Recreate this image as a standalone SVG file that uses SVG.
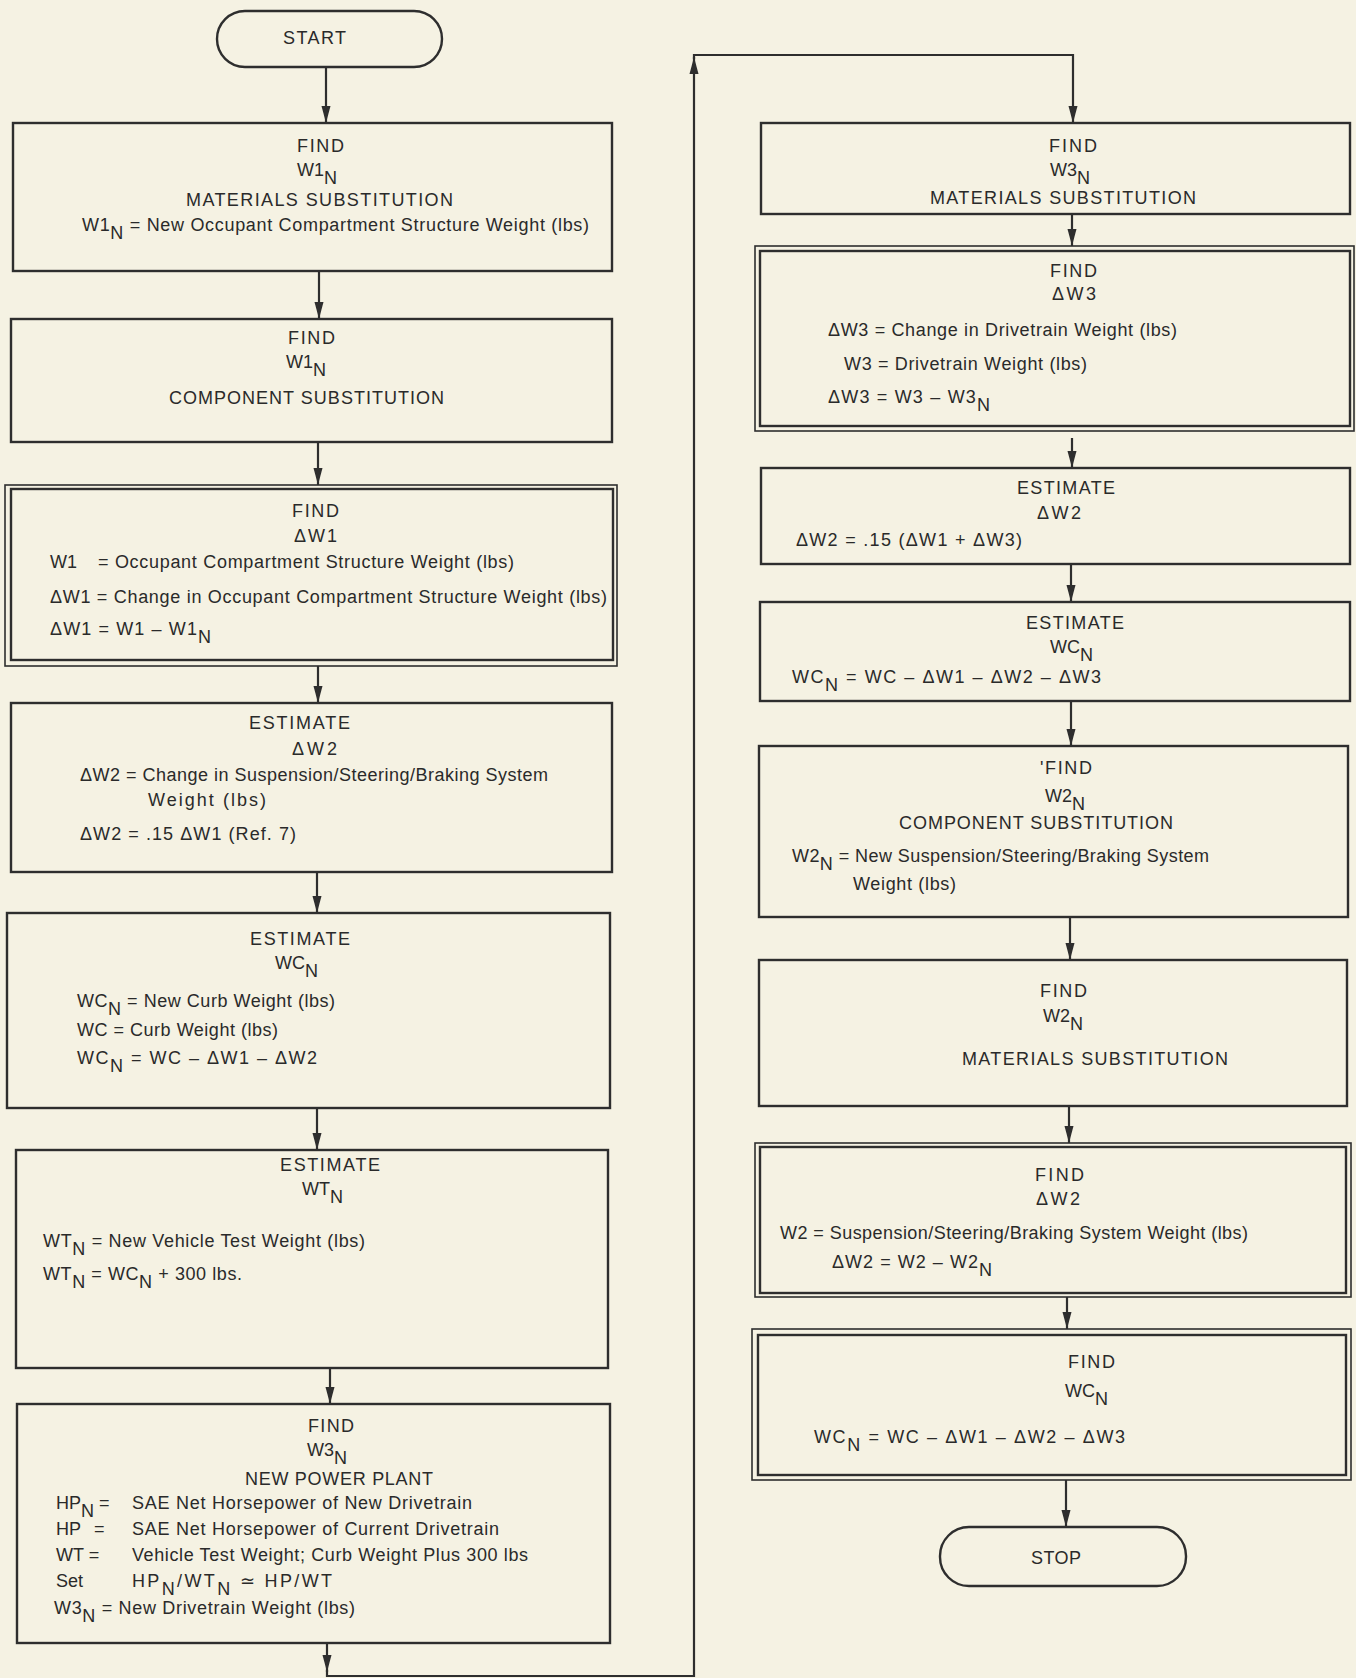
<svg xmlns="http://www.w3.org/2000/svg" width="1356" height="1678" viewBox="0 0 1356 1678">
<style>
.bg{fill:#f5f2e3}
.box{fill:none;stroke:#2e2e2e;stroke-width:2.4}
.thin{fill:none;stroke:#2e2e2e;stroke-width:1.6}
.ln{fill:none;stroke:#2e2e2e;stroke-width:2.2}
text{font-family:"Liberation Sans",Arial,sans-serif;font-size:18px;fill:#2a2a2a}
</style>
<defs>
<marker id="ah" markerUnits="userSpaceOnUse" markerWidth="18" markerHeight="10" refX="17" refY="5" orient="auto">
<path d="M0,0.5 L17,5 L0,9.5 z" fill="#2e2e2e"/>
</marker>
</defs>
<rect class="bg" x="0" y="0" width="1356" height="1678"/>

<g id="connectors">
<path class="ln" d="M326,67 V123" marker-end="url(#ah)"/>
<path class="ln" d="M319,271 V319" marker-end="url(#ah)"/>
<path class="ln" d="M318,442 V485" marker-end="url(#ah)"/>
<path class="ln" d="M318,666 V703" marker-end="url(#ah)"/>
<path class="ln" d="M317,872 V913" marker-end="url(#ah)"/>
<path class="ln" d="M317,1108 V1150" marker-end="url(#ah)"/>
<path class="ln" d="M330,1368 V1404" marker-end="url(#ah)"/>
<path class="ln" d="M327,1643 V1672" marker-end="url(#ah)"/>
<path class="ln" d="M327,1670 V1676 H694 V57" marker-end="url(#ah)"/>
<path class="ln" d="M694,59 V55 H1073 V123" marker-end="url(#ah)"/>
<path class="ln" d="M1072,214 V246" marker-end="url(#ah)"/>
<path class="ln" d="M1072,438 V468" marker-end="url(#ah)"/>
<path class="ln" d="M1071,564 V602" marker-end="url(#ah)"/>
<path class="ln" d="M1071,701 V746" marker-end="url(#ah)"/>
<path class="ln" d="M1070,917 V960" marker-end="url(#ah)"/>
<path class="ln" d="M1069,1106 V1143" marker-end="url(#ah)"/>
<path class="ln" d="M1067,1297 V1329" marker-end="url(#ah)"/>
<path class="ln" d="M1066,1480 V1527" marker-end="url(#ah)"/>
</g>

<g id="start">
<rect class="box" x="217" y="11" width="225" height="56" rx="28"/>
<text x="283" y="44" textLength="63">START</text>
</g>

<g id="b1">
<rect class="box" x="13" y="123" width="599" height="148"/>
<text x="297" y="152" textLength="47">FIND</text>
<text x="297" y="176">W1<tspan dy="8">N</tspan></text>
<text x="186" y="206" textLength="267">MATERIALS SUBSTITUTION</text>
<text x="82" y="231" textLength="507">W1<tspan dy="8">N</tspan><tspan dy="-8"> = New Occupant Compartment Structure Weight (lbs)</tspan></text>
</g>

<g id="b2">
<rect class="box" x="11" y="319" width="601" height="123"/>
<text x="288" y="344" textLength="47">FIND</text>
<text x="286" y="368">W1<tspan dy="8">N</tspan></text>
<text x="169" y="404" textLength="275">COMPONENT SUBSTITUTION</text>
</g>

<g id="b3">
<rect class="thin" x="5" y="485" width="612" height="181"/>
<rect class="box" x="11" y="489" width="602" height="171"/>
<text x="292" y="517" textLength="47">FIND</text>
<text x="294" y="542" textLength="43">ΔW1</text>
<text x="50" y="568">W1</text>
<text x="98" y="568" textLength="416">= Occupant Compartment Structure Weight (lbs)</text>
<text x="50" y="603" textLength="557">ΔW1 = Change in Occupant Compartment Structure Weight (lbs)</text>
<text x="50" y="635" textLength="161">ΔW1 = W1 – W1<tspan dy="8">N</tspan></text>
</g>

<g id="b4">
<rect class="box" x="11" y="703" width="601" height="169"/>
<text x="249" y="729" textLength="101">ESTIMATE</text>
<text x="292" y="755" textLength="45">ΔW2</text>
<text x="80" y="781" textLength="468">ΔW2 = Change in Suspension/Steering/Braking System</text>
<text x="148" y="806" textLength="118">Weight (lbs)</text>
<text x="80" y="840" textLength="216">ΔW2 = .15 ΔW1 (Ref. 7)</text>
</g>

<g id="b5">
<rect class="box" x="7" y="913" width="603" height="195"/>
<text x="250" y="945" textLength="100">ESTIMATE</text>
<text x="275" y="969">WC<tspan dy="8">N</tspan></text>
<text x="77" y="1007" textLength="258">WC<tspan dy="8">N</tspan><tspan dy="-8"> = New Curb Weight (lbs)</tspan></text>
<text x="77" y="1036" textLength="201">WC = Curb Weight (lbs)</text>
<text x="77" y="1064" textLength="240">WC<tspan dy="8">N</tspan><tspan dy="-8"> = WC – ΔW1 – ΔW2</tspan></text>
</g>

<g id="b6">
<rect class="box" x="16" y="1150" width="592" height="218"/>
<text x="280" y="1171" textLength="100">ESTIMATE</text>
<text x="302" y="1195">WT<tspan dy="8">N</tspan></text>
<text x="43" y="1247" textLength="322">WT<tspan dy="8">N</tspan><tspan dy="-8"> = New Vehicle Test Weight (lbs)</tspan></text>
<text x="43" y="1280" textLength="199">WT<tspan dy="8">N</tspan><tspan dy="-8"> = WC</tspan><tspan dy="8">N</tspan><tspan dy="-8"> + 300 lbs.</tspan></text>
</g>

<g id="b7">
<rect class="box" x="17" y="1404" width="593" height="239"/>
<text x="308" y="1432" textLength="46">FIND</text>
<text x="307" y="1456">W3<tspan dy="8">N</tspan></text>
<text x="245" y="1485" textLength="188">NEW POWER PLANT</text>
<text x="56" y="1509">HP<tspan dy="8">N</tspan><tspan dy="-8"> =</tspan></text>
<text x="132" y="1509" textLength="340">SAE Net Horsepower of New Drivetrain</text>
<text x="56" y="1535">HP</text>
<text x="94" y="1535">=</text>
<text x="132" y="1535" textLength="367">SAE Net Horsepower of Current Drivetrain</text>
<text x="56" y="1561">WT =</text>
<text x="132" y="1561" textLength="396">Vehicle Test Weight; Curb Weight Plus 300 lbs</text>
<text x="56" y="1587">Set</text>
<text x="132" y="1587" textLength="200">HP<tspan dy="8">N</tspan><tspan dy="-8">/WT</tspan><tspan dy="8">N</tspan><tspan dy="-8"> ≃ HP/WT</tspan></text>
<text x="54" y="1614" textLength="301">W3<tspan dy="8">N</tspan><tspan dy="-8"> = New Drivetrain Weight (lbs)</tspan></text>
</g>

<g id="r1">
<rect class="box" x="761" y="123" width="589" height="91"/>
<text x="1049" y="152" textLength="48">FIND</text>
<text x="1050" y="176">W3<tspan dy="8">N</tspan></text>
<text x="930" y="204" textLength="266">MATERIALS SUBSTITUTION</text>
</g>

<g id="r2">
<rect class="thin" x="755" y="246" width="599" height="185"/>
<rect class="box" x="760" y="251" width="590" height="175"/>
<text x="1050" y="277" textLength="47">FIND</text>
<text x="1052" y="300" textLength="44">ΔW3</text>
<text x="828" y="336" textLength="349">ΔW3 = Change in Drivetrain Weight (lbs)</text>
<text x="844" y="370" textLength="243">W3 = Drivetrain Weight (lbs)</text>
<text x="828" y="403" textLength="162">ΔW3 = W3 – W3<tspan dy="8">N</tspan></text>
</g>

<g id="r3">
<rect class="box" x="761" y="468" width="589" height="96"/>
<text x="1017" y="494" textLength="98">ESTIMATE</text>
<text x="1037" y="519" textLength="44">ΔW2</text>
<text x="796" y="546" textLength="226">ΔW2 = .15 (ΔW1 + ΔW3)</text>
</g>

<g id="r4">
<rect class="box" x="760" y="602" width="590" height="99"/>
<text x="1026" y="629" textLength="98">ESTIMATE</text>
<text x="1050" y="653">WC<tspan dy="8">N</tspan></text>
<text x="792" y="683" textLength="309">WC<tspan dy="8">N</tspan><tspan dy="-8"> = WC – ΔW1 – ΔW2 – ΔW3</tspan></text>
</g>

<g id="r5">
<rect class="box" x="759" y="746" width="589" height="171"/>
<text x="1040" y="774" textLength="52">'FIND</text>
<text x="1045" y="802">W2<tspan dy="8">N</tspan></text>
<text x="899" y="829" textLength="274">COMPONENT SUBSTITUTION</text>
<text x="792" y="862" textLength="417">W2<tspan dy="8">N</tspan><tspan dy="-8"> = New Suspension/Steering/Braking System</tspan></text>
<text x="853" y="890" textLength="103">Weight (lbs)</text>
</g>

<g id="r6">
<rect class="box" x="759" y="960" width="588" height="146"/>
<text x="1040" y="997" textLength="47">FIND</text>
<text x="1043" y="1022">W2<tspan dy="8">N</tspan></text>
<text x="962" y="1065" textLength="266">MATERIALS SUBSTITUTION</text>
</g>

<g id="r7">
<rect class="thin" x="755" y="1143" width="596" height="154"/>
<rect class="box" x="760" y="1147" width="586" height="146"/>
<text x="1035" y="1181" textLength="49">FIND</text>
<text x="1036" y="1205" textLength="44">ΔW2</text>
<text x="780" y="1239" textLength="468">W2 = Suspension/Steering/Braking System Weight (lbs)</text>
<text x="832" y="1268" textLength="160">ΔW2 = W2 – W2<tspan dy="8">N</tspan></text>
</g>

<g id="r8">
<rect class="thin" x="752" y="1329" width="599" height="151"/>
<rect class="box" x="758" y="1335" width="588" height="140"/>
<text x="1068" y="1368" textLength="47">FIND</text>
<text x="1065" y="1397">WC<tspan dy="8">N</tspan></text>
<text x="814" y="1443" textLength="311">WC<tspan dy="8">N</tspan><tspan dy="-8"> = WC – ΔW1 – ΔW2 – ΔW3</tspan></text>
</g>

<g id="stop">
<rect class="box" x="940" y="1527" width="246" height="59" rx="29"/>
<text x="1031" y="1564" textLength="50">STOP</text>
</g>
</svg>
